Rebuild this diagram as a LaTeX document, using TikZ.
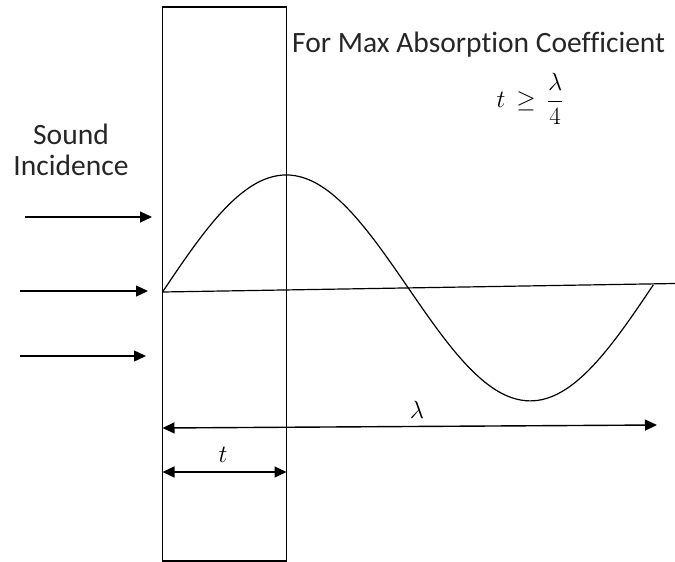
\documentclass[tikz,border=0pt]{standalone}
\usepackage{fontspec}
\setmainfont[Ligatures=NoCommon]{Carlito}
\usetikzlibrary{arrows.meta}
\begin{document}
\begin{tikzpicture}[x=1pt,y=-1pt,
  ln/.style={line width=1.4pt,black},
  arr/.style={ln,-{Triangle[length=12pt,width=11pt]}},
  dim/.style={ln,{Triangle[length=12pt,width=11pt]}-{Triangle[length=12pt,width=11pt]}},
  lbl/.style={font=\fontsize{29.5}{33}\selectfont,text=black!85,inner sep=0pt},
  mth/.style={font=\fontsize{28}{32}\selectfont,inner sep=0pt}]
\useasboundingbox (0,0) rectangle (675,562);
% slab
\draw[ln] (162.5,7) rectangle (286.5,561);
% coordinates
\coordinate (o) at (162.5,292);
\coordinate (e) at (675,283.5);
% axis
\draw[ln,line width=1.2pt] (o) -- (e);
% wave
\draw[ln,line width=1.2pt,smooth,samples=120,domain=0:1]
  plot ({162.5+491.5*\x},{292-8.5*(491.5*\x)/512.5-115*sin(360*\x)});
% incidence arrows
\coordinate (a1s) at (25,217); \coordinate (a1e) at (152,217);
\coordinate (a2s) at (20,291); \coordinate (a2e) at (148,291);
\coordinate (a3s) at (20,356); \coordinate (a3e) at (146,356);
\draw[arr] (a1s) -- (a1e);
\draw[arr] (a2s) -- (a2e);
\draw[arr] (a3s) -- (a3e);
\node[lbl,align=center] (snd) at (71,150) {Sound\\[-2pt]Incidence};
% dimensions
\coordinate (l1) at (162.5,428); \coordinate (l2) at (657,425);
\draw[dim] (l1) -- (l2);
\node[mth] (lam) at (417,410) {$\lambda$};
\coordinate (t1) at (162.5,472); \coordinate (t2) at (286.5,472);
\draw[dim] (t1) -- (t2);
\node[mth] (tl) at (223,455) {$t$};
% title
\node[lbl,anchor=west] (title) at (292,45) {For Max Absorption Coefficient};
\node[mth] (cond) at (530,99) {$t\mathrel{\,\geq\,}\displaystyle\frac{\lambda}{4}$};
\end{tikzpicture}
\end{document}
